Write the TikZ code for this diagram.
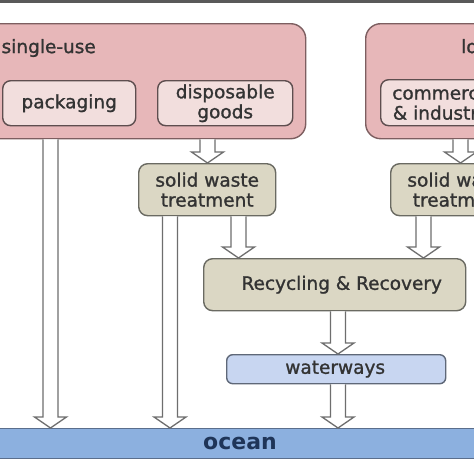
\documentclass[tikz,border=0pt]{standalone}
\usepackage{fontspec}
\setmainfont{DejaVu Sans}
\newfontfamily\semib[FakeBold=1.2]{DejaVu Sans}
\usetikzlibrary{calc}
\definecolor{bigpink}{HTML}{E7B7B9}
\definecolor{bigborder}{HTML}{7D5E60}
\definecolor{innerpink}{HTML}{F2DEDD}
\definecolor{innerborder}{HTML}{5E4E4F}
\definecolor{beige}{HTML}{DBD7C4}
\definecolor{beigeborder}{HTML}{6A6A62}
\definecolor{lightblue}{HTML}{C8D6F1}
\definecolor{blueborder}{HTML}{5F6878}
\definecolor{oceanblue}{HTML}{8CB0DF}
\definecolor{oceanborder}{HTML}{5A6E8C}
\definecolor{txt}{HTML}{333333}
\definecolor{navy}{HTML}{1F3558}
\definecolor{arrowgray}{HTML}{6E6E6E}
\tikzset{
  bigbox/.style={draw=bigborder,fill=bigpink,line width=1.4pt,rounded corners=15pt},
  innerbox/.style={draw=innerborder,fill=innerpink,line width=1.4pt,rounded corners=8pt},
  beigebox/.style={draw=beigeborder,fill=beige,line width=1.4pt,rounded corners=9pt},
  wbox/.style={draw=blueborder,fill=lightblue,line width=1.4pt,rounded corners=6pt},
  lbl/.style={text=txt,font=\semib\fontsize{18.5}{20}\selectfont,align=center,inner sep=0pt},
  harrowstyle/.style={draw=arrowgray,fill=white,line width=1.3pt,line join=miter},
}
\newcommand\harrow[3]{%
  \filldraw[harrowstyle] let \p1=#2, \p2=#3 in
    (#1-7.5pt,\y1) -- (#1-7.5pt,\y2+11pt) -- (#1-16pt,\y2+11pt) -- (#1pt,\y2)
    -- (#1+16pt,\y2+11pt) -- (#1+7.5pt,\y2+11pt) -- (#1+7.5pt,\y1);}
\begin{document}
\begin{tikzpicture}[x=1pt,y=-1pt]
\useasboundingbox (0,0) rectangle (474,474);
\clip (0,0) rectangle (474,474);
\fill[white] (0,0) rectangle (474,474);
\fill[black!65] (0,0) rectangle (474,2.5);
% big boxes
\node[bigbox,minimum width=345pt,minimum height=115pt,anchor=north west] (single) at (-40,23) {};
\node[bigbox,minimum width=160pt,minimum height=115pt,anchor=north west] (longuse) at (365,23) {};
\node[lbl,anchor=east] (singlelbl) at (96,48) {single-use};
\node[lbl,anchor=west] (longlbl) at (461,48) {long-use};
% inner boxes
\node[innerbox,minimum width=133pt,minimum height=45pt,anchor=north west] (pack) at (2,80) {};
\node[lbl] at (pack.center) {packaging};
\node[innerbox,minimum width=135pt,minimum height=45pt,anchor=north west] (disp) at (157,80) {};
\node[lbl] at (disp.center) {disposable\\goods};
\node[innerbox,minimum width=135pt,minimum height=46pt,anchor=north west] (comm) at (380,79) {};
\node[lbl] at ([xshift=-2pt]comm.center) {commercial\\\& industrial};
% solid waste treatment
\node[beigebox,minimum width=137pt,minimum height=52pt,anchor=north west] (swtl) at (138,163) {};
\node[lbl] at (swtl.center) {solid waste\\treatment};
\node[beigebox,minimum width=137pt,minimum height=52pt,anchor=north west] (swtr) at (390,163) {};
\node[lbl] at (swtr.center) {solid waste\\treatment};
% recycling
\node[beigebox,minimum width=262pt,minimum height=52pt,anchor=north west] (recyc) at (203,258) {};
\node[lbl] at ([xshift=7pt]recyc.center) {Recycling \& Recovery};
% waterways
\node[wbox,minimum width=219pt,minimum height=29pt,anchor=north west] (water) at (226,354) {};
\node[lbl] at ([xshift=-1pt]water.center) {waterways};
% ocean
\node[draw=oceanborder,fill=oceanblue,line width=1.4pt,minimum width=490pt,minimum height=30pt,anchor=north west,inner sep=0pt] (ocean) at (-8,428) {};
\node[text=navy,font=\fontsize{22}{24}\bfseries\selectfont,inner sep=0pt] at (240,443) {ocean};
% arrows
\harrow{50.5}{(single.south)}{(ocean.north)}
\harrow{207.5}{(single.south)}{(swtl.north)}
\harrow{170}{(swtl.south)}{(ocean.north)}
\harrow{238.5}{(swtl.south)}{(recyc.north)}
\harrow{460.5}{(longuse.south)}{(swtr.north)}
\harrow{423.5}{(swtr.south)}{(recyc.north)}
\harrow{338}{(recyc.south)}{(water.north)}
\harrow{338}{(water.south)}{(ocean.north)}
\end{tikzpicture}
\end{document}
